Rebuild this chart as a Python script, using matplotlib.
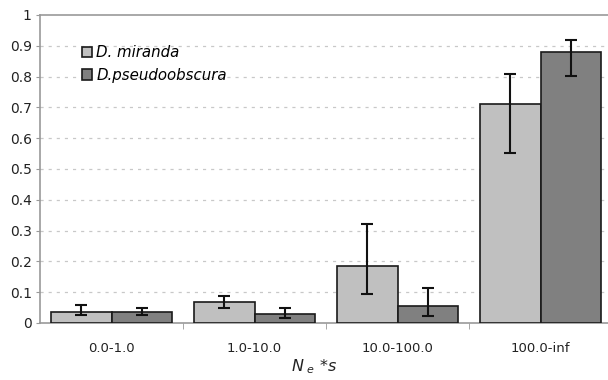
import numpy as np
import matplotlib
matplotlib.use("Agg")
import matplotlib.pyplot as plt

plt.rcParams['mathtext.fontset'] = 'dejavusans'

categories = ['0.0-1.0', '1.0-10.0', '10.0-100.0', '100.0-inf']
miranda = [0.037, 0.068, 0.186, 0.710]
miranda_lo = [0.025, 0.048, 0.093, 0.552]
miranda_hi = [0.060, 0.088, 0.322, 0.808]
pseudo = [0.036, 0.030, 0.055, 0.879]
pseudo_lo = [0.025, 0.015, 0.022, 0.801]
pseudo_hi = [0.050, 0.050, 0.115, 0.918]

x = np.arange(len(categories))
w = 0.42

fig = plt.figure(figsize=(6.08, 3.8), dpi=100)
ax = fig.add_axes([40/608, 57/380, 572/608, 308/380])

m = np.array(miranda)
p = np.array(pseudo)
merr = [m - np.array(miranda_lo), np.array(miranda_hi) - m]
perr = [p - np.array(pseudo_lo), np.array(pseudo_hi) - p]

ax.bar(x - w/2, m, w, color='#c0c0c0', edgecolor='#1a1a1a', linewidth=1.2,
       label='D. miranda', zorder=3)
ax.bar(x + w/2, p, w, color='#808080', edgecolor='#1a1a1a', linewidth=1.2,
       label='D.pseudoobscura', zorder=3)
ax.errorbar(x - w/2, m, yerr=merr, fmt='none', ecolor='#111111', elinewidth=1.5,
            capsize=4.3, capthick=1.5, zorder=4)
ax.errorbar(x + w/2, p, yerr=perr, fmt='none', ecolor='#111111', elinewidth=1.5,
            capsize=4.3, capthick=1.5, zorder=4)

ax.set_xlim(-0.5, len(categories) - 0.5)
ax.set_ylim(0, 1)
ax.set_yticks(np.arange(0, 1.01, 0.1))
ax.set_yticklabels(['0'] + ['%.1f' % v for v in np.arange(0.1, 0.95, 0.1)] + ['1'])
ax.set_xticks(x)
ax.set_xticklabels(categories)
ax.set_xticks(np.arange(0.5, len(categories) - 1, 1), minor=True)
ax.tick_params(axis='x', which='major', length=0, pad=14, labelsize=9.5, colors='#222222')
ax.tick_params(axis='x', which='minor', length=4, color='#999999')
ax.tick_params(axis='y', length=3, color='#999999', labelsize=10, labelcolor='#222222', pad=3)

for v in np.arange(0.1, 0.95, 0.1):
    ax.axhline(v, color='#c8c8c8', linestyle=(0, (2.5, 4)), linewidth=0.9, zorder=1)

for s in ['left', 'bottom', 'top']:
    ax.spines[s].set_color('#999999')
    ax.spines[s].set_linewidth(1.2)
ax.spines['right'].set_visible(False)

ax.set_xlabel(r'$N_{\ e}$ *$s$', fontsize=11.5, color='#222222')
ax.xaxis.set_label_coords((314 - 40) / 572, -0.11)

leg = ax.legend(loc='upper left', bbox_to_anchor=(0.05, 0.945), frameon=False,
                prop={'style': 'italic', 'size': 10.8}, handlelength=0.65,
                handleheight=0.7, handletextpad=0.3, labelspacing=0.5)

fig.savefig('out.png', dpi=100)
